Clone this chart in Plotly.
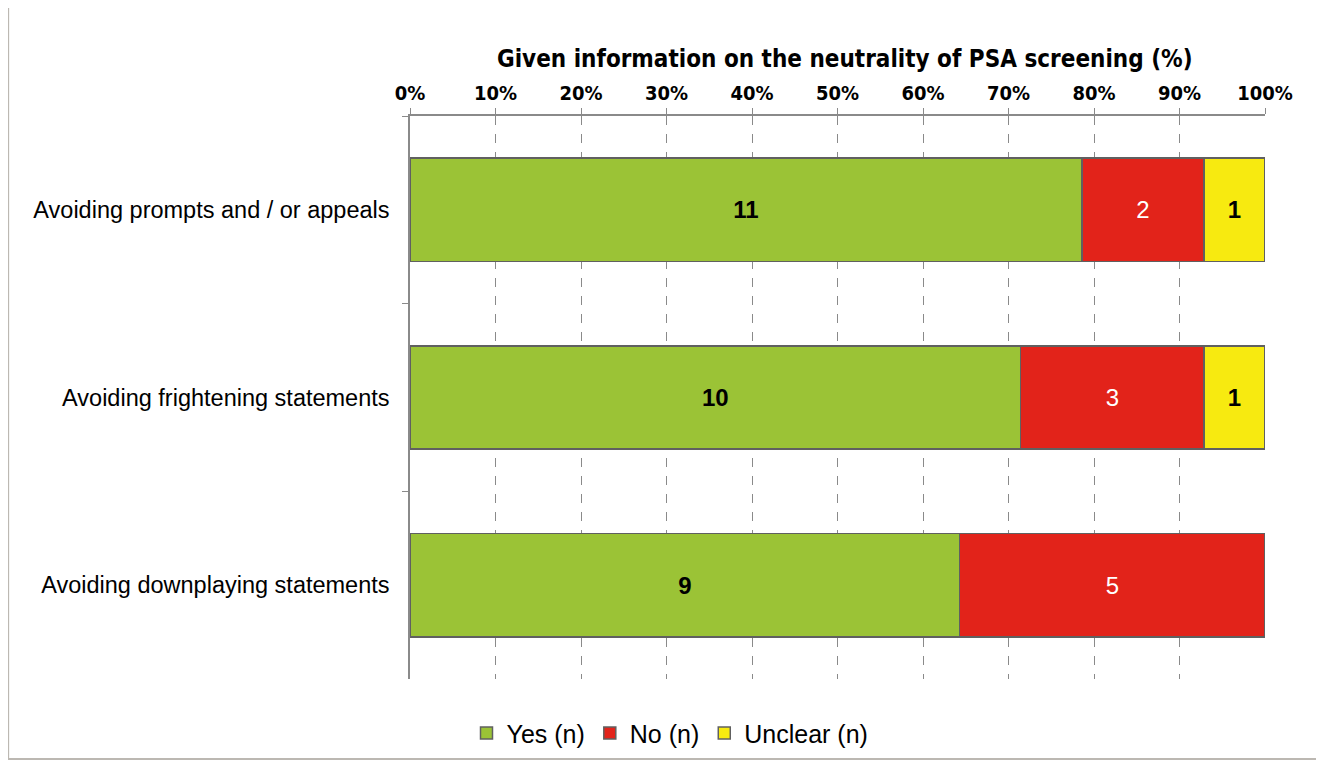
import plotly.graph_objects as go

categories = ["Avoiding prompts and / or appeals",
              "Avoiding frightening statements",
              "Avoiding downplaying statements"]
yes_n = [11, 10, 9]
no_n = [2, 3, 5]
unclear_n = [1, 1, 0]
tick_vals = [0, 10, 20, 30, 40, 50, 60, 70, 80, 90, 100]
tick_text = [f"<b>{v}%</b>" for v in tick_vals]

COND = "DejaVu Sans Condensed, Liberation Sans, sans-serif"

series = [
    ("Yes (n)", yes_n, "#9BC336", "black", "<b>%{text}</b>"),
    ("No (n)", no_n, "#E2231A", "white", "%{text}"),
    ("Unclear (n)", unclear_n, "#F7EA10", "black", "<b>%{text}</b>"),
]

fig = go.Figure()
for name, vals, color, tcolor, tmpl in series:
    tfont = dict(color=tcolor, size=24, family="Liberation Sans")
    fig.add_trace(go.Bar(
        name=name, y=categories, x=vals, orientation="h",
        marker=dict(color=color, line=dict(color="#606060", width=1.5)),
        text=vals, texttemplate=tmpl, textposition="inside",
        insidetextanchor="middle", textfont=tfont, insidetextfont=tfont,
        textangle=0, constraintext="none",
    ))

fig.update_layout(
    barmode="stack", barnorm="percent", bargap=0.45,
    width=1324, height=765,
    margin=dict(l=402, r=67, t=108, b=94),
    paper_bgcolor="white", plot_bgcolor="white",
    font=dict(family="Liberation Sans", color="black"),
    showlegend=True,
    uniformtext=dict(mode=False),
    legend=dict(orientation="h", xref="container", yref="container",
                x=0.5, xanchor="center", y=0.052, yanchor="middle",
                font=dict(size=25, family="Liberation Sans"),
                traceorder="normal", itemwidth=30),
    xaxis=dict(side="top", range=[0, 100], tickvals=tick_vals, ticktext=tick_text,
               tickfont=dict(size=20, family=COND, color="black"),
               showgrid=True, gridcolor="#8a8a8a", griddash="dash", gridwidth=1,
               showline=True, linecolor="#8a8a8a", linewidth=1.5,
               ticks="outside", ticklen=6, tickcolor="#8a8a8a",
               zeroline=False, fixedrange=True),
    yaxis=dict(autorange="reversed", tickson="boundaries", ticks="outside",
               ticklen=6, tickcolor="#8a8a8a",
               showline=True, linecolor="#8a8a8a", linewidth=1.5,
               tickfont=dict(size=23.5, family="Liberation Sans", color="black"),
               ticklabelstandoff=14),
)

fig.add_annotation(text="<b>Given information on the neutrality of PSA screening (%)</b>",
                   xref="paper", yref="paper", x=0.509, y=1.101,
                   showarrow=False, font=dict(size=24, family=COND, color="black"),
                   xanchor="center", yanchor="middle")

# outer frame: page coords (8..1318, 6..758) -> paper coords
fig.add_shape(type="rect", xref="paper", yref="paper",
              x0=-0.470, x1=1.062, y0=-0.142, y1=1.194,
              line=dict(color="#bcb8b2", width=2), layer="below")

fig.write_html("out.html")
